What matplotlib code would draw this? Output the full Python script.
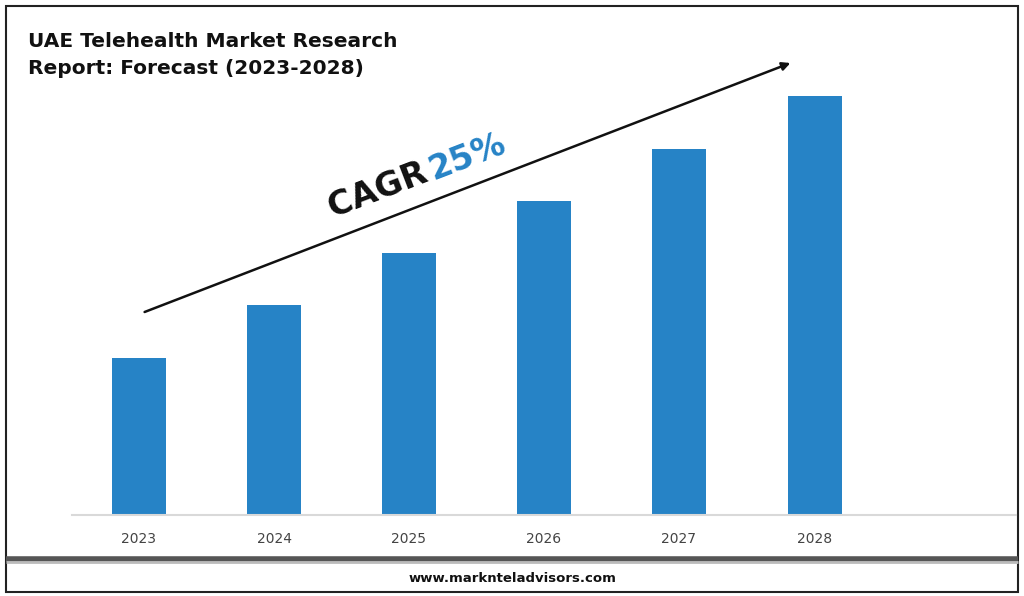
import matplotlib.pyplot as plt
from matplotlib.patches import Rectangle

years = ["2023", "2024", "2025", "2026", "2027", "2028"]
values = [157, 210, 262, 314, 366, 419]
title = "UAE Telehealth Market Research\nReport: Forecast (2023-2028)"
footer = "www.marknteladvisors.com"

W, H = 1024, 596
fig = plt.figure(figsize=(W / 100, H / 100), dpi=100)

# outer frame and footer separator, in pixel coords
fr = fig.add_axes([0, 0, 1, 1])
fr.set_xlim(0, W)
fr.set_ylim(H, 0)
fr.axis("off")
fr.add_patch(Rectangle((6, 6), W - 12, H - 10, fill=False, lw=1.5, ec="#222222"))
fr.plot([6, W - 6], [559, 559], color="#555555", lw=4, solid_capstyle="butt")
fr.plot([6, W - 6], [562, 562], color="#bbbbbb", lw=2, solid_capstyle="butt")
fr.text(W / 2, 578, footer, ha="center", va="center", fontsize=9.5,
        fontweight="bold", color="#111111")
fr.text(28, 55, title, ha="left", va="center", fontsize=14.5,
        fontweight="bold", color="#111111", linespacing=1.5)

# bar chart: baseline at y=515, x from 72 to 1016
ax = fig.add_axes([72 / W, 1 - 515 / H, (1016 - 72) / W, (515 - 60) / H])
ax.patch.set_alpha(0)
xs = [139, 274, 409, 544, 679, 815]
ax.bar(xs, values, width=54, color="#2683c6")
ax.set_xlim(72, 1016)
ax.set_ylim(0, 455)
ax.set_yticks([])
ax.set_xticks(xs)
ax.set_xticklabels(years, fontsize=10, color="#444444")
ax.tick_params(axis="x", length=0, pad=12)
for s in ["top", "right", "left"]:
    ax.spines[s].set_visible(False)
ax.spines["bottom"].set_color("#d9d9d9")
ax.spines["bottom"].set_linewidth(1.5)

# CAGR arrow
fr.annotate("", xy=(793, 62), xytext=(142, 313),
            arrowprops=dict(arrowstyle="-|>", color="#111111", lw=1.8,
                            mutation_scale=12))
fr.text(333, 218, "CAGR ", rotation=21, ha="left", va="baseline",
        fontsize=24, fontweight="bold", color="#111111",
        rotation_mode="anchor")
fr.text(433, 180, "25%", rotation=21, ha="left", va="baseline",
        fontsize=24, fontweight="bold", color="#2683c6",
        rotation_mode="anchor")

fig.savefig("out.png", dpi=100, facecolor="white")
